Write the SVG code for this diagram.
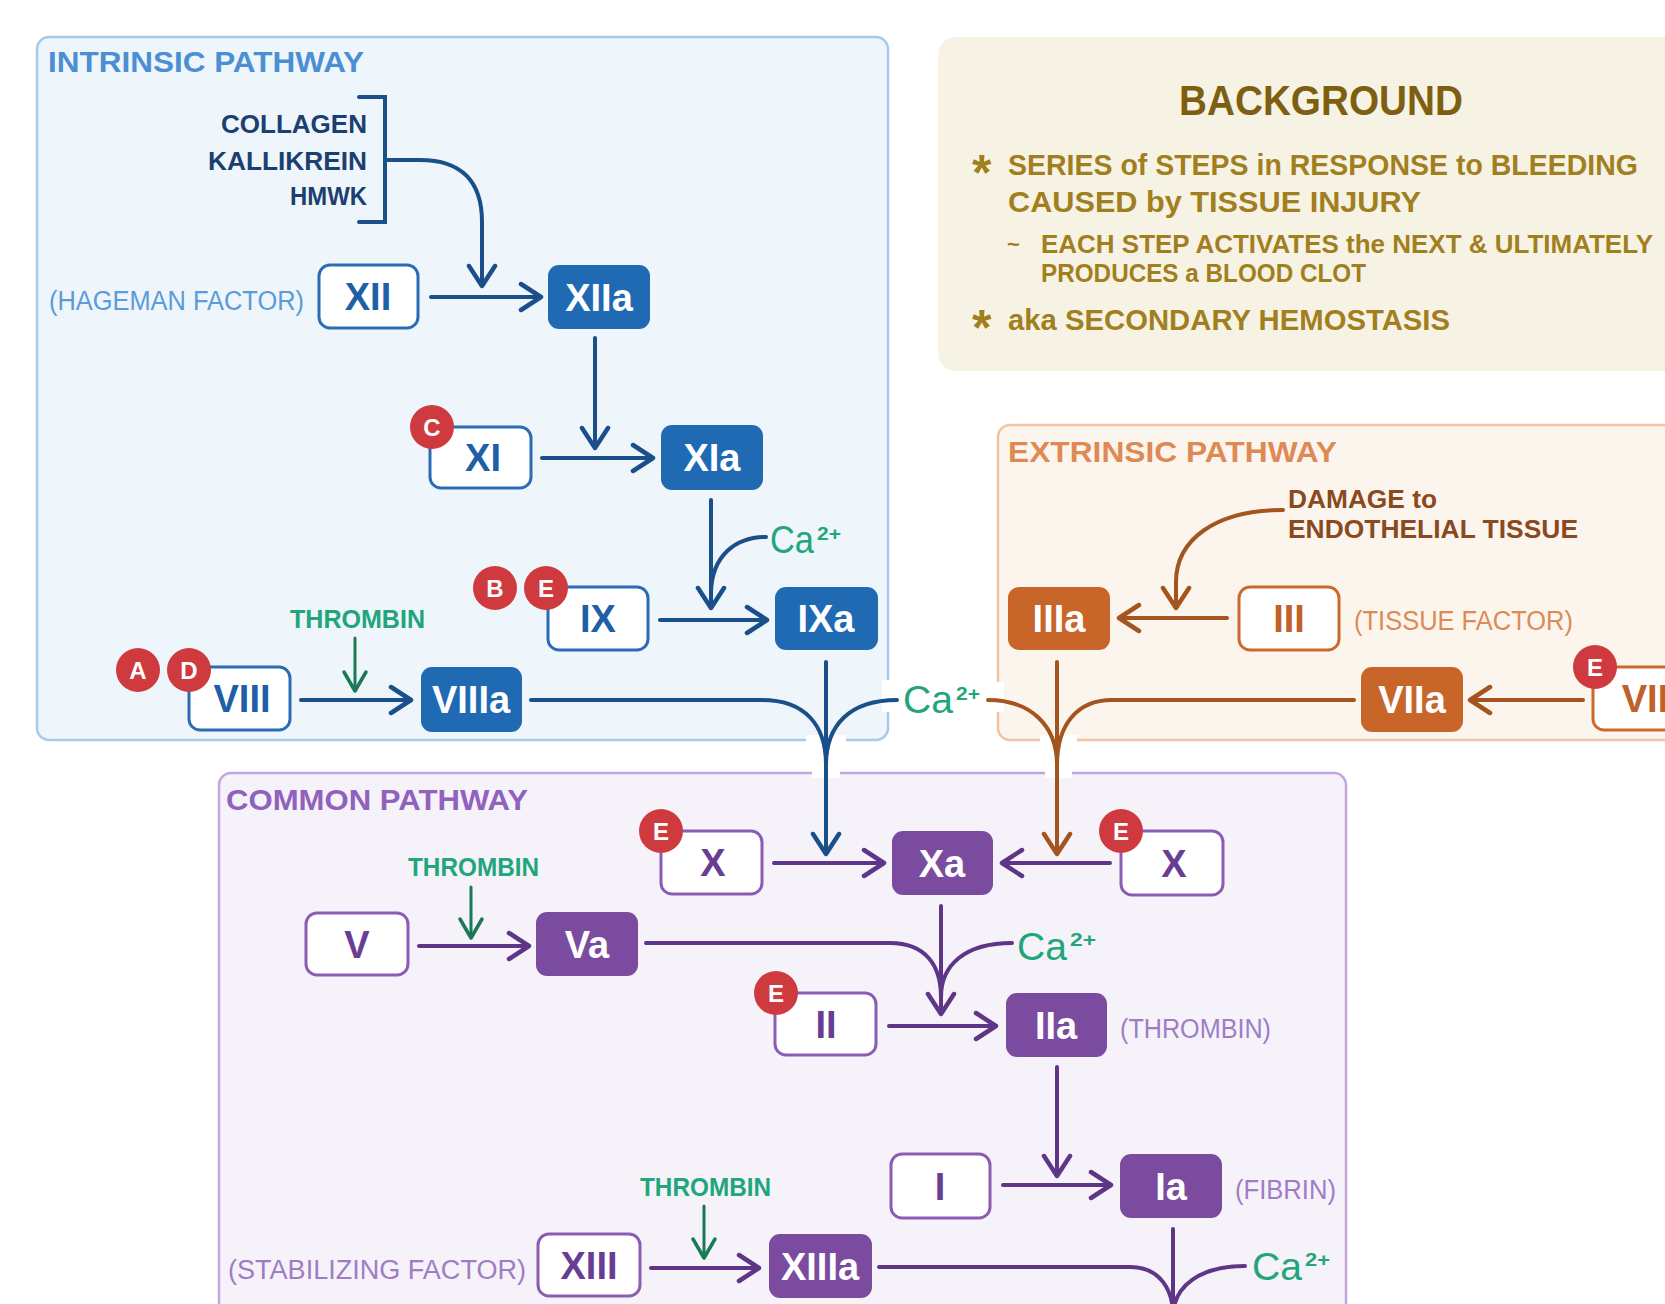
<svg xmlns="http://www.w3.org/2000/svg" width="1665" height="1304" viewBox="0 0 1665 1304">
<defs>
<marker id="aBlue" viewBox="-3 -3 28 32" markerWidth="28" markerHeight="32" refX="17" refY="13" orient="auto" markerUnits="userSpaceOnUse"><path d="M0,0 L20,13 L0,26" fill="none" stroke="#1b4f8a" stroke-width="4.5" stroke-linecap="round" stroke-linejoin="round"/></marker>
<marker id="aBrown" viewBox="-3 -3 28 32" markerWidth="28" markerHeight="32" refX="17" refY="13" orient="auto" markerUnits="userSpaceOnUse"><path d="M0,0 L20,13 L0,26" fill="none" stroke="#a3541f" stroke-width="4.5" stroke-linecap="round" stroke-linejoin="round"/></marker>
<marker id="aPurple" viewBox="-3 -3 28 32" markerWidth="28" markerHeight="32" refX="17" refY="13" orient="auto" markerUnits="userSpaceOnUse"><path d="M0,0 L20,13 L0,26" fill="none" stroke="#5f3588" stroke-width="4.5" stroke-linecap="round" stroke-linejoin="round"/></marker>
<marker id="aGreen" viewBox="-3 -3 28 32" markerWidth="28" markerHeight="32" refX="17" refY="13" orient="auto" markerUnits="userSpaceOnUse"><path d="M1,2 L20,13 L1,24" fill="none" stroke="#1b7a56" stroke-width="3.5" stroke-linecap="round" stroke-linejoin="round"/></marker>
</defs>
<style>
text{font-family:"Liberation Sans",Arial,sans-serif}
.ttl{font-size:30px;font-weight:bold}
.lbl{font-size:38px;font-weight:bold;text-anchor:middle}
.sm{font-size:26px;font-weight:bold}
.note{font-size:27px}
.wb{fill:#ffffff;stroke:#2a6db5;stroke-width:3}
.fb{fill:#1f6ab3}
.wo{fill:#ffffff;stroke:#cc6a2e;stroke-width:3}
.fo{fill:#c8662a}
.wp{fill:#ffffff;stroke:#8a5cb4;stroke-width:3}
.fp{fill:#7b4b9f}
.badge circle{fill:#cf3a3f}
.badge text{fill:#ffffff;font-size:24px;font-weight:bold;text-anchor:middle}
.cB{fill:none;stroke:#1b4f8a;stroke-width:4;stroke-linecap:round}
.cO{fill:none;stroke:#a3541f;stroke-width:4;stroke-linecap:round}
.cP{fill:none;stroke:#5f3588;stroke-width:4;stroke-linecap:round}
.cG{fill:none;stroke:#1b7a56;stroke-width:3;stroke-linecap:round}
.ca{fill:#22a57b;font-size:38px}
.ca tspan.s{font-size:19px;font-weight:bold}
.thr{fill:#22a57b;font-size:26px;font-weight:bold}
.bg{fill:#a27f1e;font-size:30px;font-weight:bold}
.bgs{fill:#a27f1e;font-size:25px;font-weight:bold}
.ast{fill:#a27f1e;font-size:50px;font-weight:bold}
</style>

<g id="panels">
<rect id="intrinsic-panel" x="37" y="37" width="851" height="703" rx="12" fill="#eef5fb" stroke="#a7c9ea" stroke-width="2.5"/>
<rect id="background-panel" x="938" y="37" width="760" height="334" rx="18" fill="#f6f3e4"/>
<rect id="extrinsic-panel" x="998" y="425" width="700" height="315" rx="12" fill="#fcf5ee" stroke="#f0c4a0" stroke-width="2.5"/>
<rect id="common-panel" x="219" y="773" width="1127" height="560" rx="12" fill="#f5f3f9" stroke="#c3a6dd" stroke-width="2.5"/>
<g id="border-gaps" fill="#ffffff">
<rect x="806" y="735" width="40" height="10"/>
<rect x="812" y="768" width="28" height="10"/>
<rect x="1040" y="735" width="37" height="10"/>
<rect x="1045" y="768" width="27" height="10"/>
<rect x="882" y="680" width="12" height="32"/>
<rect x="992" y="682" width="12" height="30"/>
</g>
</g>

<g id="panel-titles">
<text x="48" y="72" class="ttl" fill="#4b8fd3" textLength="316" lengthAdjust="spacingAndGlyphs">INTRINSIC PATHWAY</text>
<text x="1008" y="462" class="ttl" fill="#dd8a55" textLength="329" lengthAdjust="spacingAndGlyphs">EXTRINSIC PATHWAY</text>
<text x="226" y="810" class="ttl" fill="#9061bd" textLength="302" lengthAdjust="spacingAndGlyphs">COMMON PATHWAY</text>
</g>

<g id="background-text">
<text x="1179" y="115" font-size="42" font-weight="bold" fill="#7e5f12" textLength="284" lengthAdjust="spacingAndGlyphs">BACKGROUND</text>
<text x="972" y="190" class="ast">*</text>
<text x="1008" y="175" class="bg" font-size="28" textLength="630" lengthAdjust="spacingAndGlyphs">SERIES of STEPS in RESPONSE to BLEEDING</text>
<text x="1008" y="212" class="bg" textLength="413" lengthAdjust="spacingAndGlyphs">CAUSED by TISSUE INJURY</text>
<text x="1007" y="252" font-size="22" font-weight="bold" fill="#a27f1e">~</text>
<text x="1041" y="253" class="bgs" textLength="612" lengthAdjust="spacingAndGlyphs">EACH STEP ACTIVATES the NEXT &amp; ULTIMATELY</text>
<text x="1041" y="282" class="bgs" textLength="325" lengthAdjust="spacingAndGlyphs">PRODUCES a BLOOD CLOT</text>
<text x="972" y="345" class="ast">*</text>
<text x="1008" y="330" class="bg" textLength="442" lengthAdjust="spacingAndGlyphs">aka SECONDARY HEMOSTASIS</text>
</g>

<g id="connectors">
<path class="cB" d="M359,97 H385 V222 H359" stroke-width="3.5" stroke-linecap="butt"/>
<path class="cB" d="M386,160 H420 C462,160 482,182 482,222 V283" marker-end="url(#aBlue)"/>
<path class="cB" d="M431,297 H538" marker-end="url(#aBlue)"/>
<path class="cB" d="M595,338 V445" marker-end="url(#aBlue)"/>
<path class="cB" d="M542,458 H650" marker-end="url(#aBlue)"/>
<path class="cB" d="M711,500 V605" marker-end="url(#aBlue)"/>
<path class="cB" d="M766,537 C735,537 712,556 711,592"/>
<path class="cB" d="M660,620 H764" marker-end="url(#aBlue)"/>
<path class="cB" d="M301,700 H408" marker-end="url(#aBlue)"/>
<path class="cG" d="M355,638 V688" marker-end="url(#aGreen)"/>
<path class="cB" d="M531,700 H762 C805,700 826,725 826,765"/>
<path class="cB" d="M897,700 C850,700 826,725 826,765"/>
<path class="cB" d="M826,662 V851" marker-end="url(#aBlue)"/>

<path class="cO" d="M1283,510 C1215,510 1176,540 1176,582 V605" marker-end="url(#aBrown)"/>
<path class="cO" d="M1227,618 H1122" marker-end="url(#aBrown)"/>
<path class="cO" d="M1583,700 H1473" marker-end="url(#aBrown)"/>
<path class="cO" d="M1057,662 V851" marker-end="url(#aBrown)"/>
<path class="cO" d="M1354,700 H1112 C1077,700 1057,725 1057,765"/>
<path class="cO" d="M988,700 C1030,700 1057,725 1057,765"/>

<path class="cP" d="M774,863 H881" marker-end="url(#aPurple)"/>
<path class="cP" d="M1110,863 H1005" marker-end="url(#aPurple)"/>
<path class="cP" d="M419,946 H526" marker-end="url(#aPurple)"/>
<path class="cG" d="M471,887 V935" marker-end="url(#aGreen)"/>
<path class="cP" d="M941,906 V1011" marker-end="url(#aPurple)"/>
<path class="cP" d="M646,943 H890 C925,943 941,965 941,997"/>
<path class="cP" d="M1012,943 C965,943 941,965 941,997"/>
<path class="cP" d="M889,1026 H993" marker-end="url(#aPurple)"/>
<path class="cP" d="M1057,1067 V1173" marker-end="url(#aPurple)"/>
<path class="cP" d="M1003,1185 H1108" marker-end="url(#aPurple)"/>
<path class="cG" d="M704,1206 V1255" marker-end="url(#aGreen)"/>
<path class="cP" d="M651,1268 H756" marker-end="url(#aPurple)"/>
<path class="cP" d="M1173,1229 V1320"/>
<path class="cP" d="M879,1267 H1130 C1160,1267 1173,1290 1173,1315"/>
<path class="cP" d="M1245,1266 C1200,1266 1174,1286 1173,1315"/>
</g>

<g id="side-labels">
<text x="367" y="133" class="sm" fill="#1b3f70" text-anchor="end" textLength="146" lengthAdjust="spacingAndGlyphs">COLLAGEN</text>
<text x="367" y="170" class="sm" fill="#1b3f70" text-anchor="end" textLength="159" lengthAdjust="spacingAndGlyphs">KALLIKREIN</text>
<text x="367" y="205" class="sm" fill="#1b3f70" text-anchor="end" textLength="77" lengthAdjust="spacingAndGlyphs">HMWK</text>
<text x="49" y="310" class="note" fill="#5b9bd9" textLength="255" lengthAdjust="spacingAndGlyphs">(HAGEMAN FACTOR)</text>
<text x="290" y="628" class="thr" textLength="135" lengthAdjust="spacingAndGlyphs">THROMBIN</text>
<text x="1288" y="508" class="sm" fill="#8a4a1e" textLength="149" lengthAdjust="spacingAndGlyphs">DAMAGE to</text>
<text x="1288" y="538" class="sm" fill="#8a4a1e" textLength="290" lengthAdjust="spacingAndGlyphs">ENDOTHELIAL TISSUE</text>
<text x="1354" y="630" class="note" fill="#dd8a55" textLength="219" lengthAdjust="spacingAndGlyphs">(TISSUE FACTOR)</text>
<text x="408" y="876" class="thr" textLength="131" lengthAdjust="spacingAndGlyphs">THROMBIN</text>
<text x="640" y="1196" class="thr" textLength="131" lengthAdjust="spacingAndGlyphs">THROMBIN</text>
<text x="1120" y="1038" class="note" fill="#a07cc6" textLength="151" lengthAdjust="spacingAndGlyphs">(THROMBIN)</text>
<text x="1235" y="1199" class="note" fill="#a07cc6" textLength="101" lengthAdjust="spacingAndGlyphs">(FIBRIN)</text>
<text x="228" y="1279" class="note" fill="#a07cc6" textLength="298" lengthAdjust="spacingAndGlyphs">(STABILIZING FACTOR)</text>
<text class="ca" y="553"><tspan x="770" textLength="44" lengthAdjust="spacingAndGlyphs">Ca</tspan><tspan class="s" x="817" y="540" textLength="24" lengthAdjust="spacingAndGlyphs">2+</tspan></text>
<text class="ca" y="713"><tspan x="903" textLength="50" lengthAdjust="spacingAndGlyphs">Ca</tspan><tspan class="s" x="956" y="700" textLength="24" lengthAdjust="spacingAndGlyphs">2+</tspan></text>
<text class="ca" y="960"><tspan x="1017" textLength="50" lengthAdjust="spacingAndGlyphs">Ca</tspan><tspan class="s" x="1070" y="946" textLength="26" lengthAdjust="spacingAndGlyphs">2+</tspan></text>
<text class="ca" y="1280"><tspan x="1252" textLength="50" lengthAdjust="spacingAndGlyphs">Ca</tspan><tspan class="s" x="1305" y="1266" textLength="25" lengthAdjust="spacingAndGlyphs">2+</tspan></text>
</g>

<g id="node-XII"><rect class="wb" x="319" y="265" width="99" height="63" rx="11"/><text class="lbl" x="368" y="310" fill="#1f5fa8">XII</text></g>
<g id="node-XIIa"><rect class="fb" x="548" y="265" width="102" height="64" rx="11"/><text class="lbl" x="599" y="311" fill="#ffffff">XIIa</text></g>
<g id="node-XI"><rect class="wb" x="430" y="427" width="101" height="61" rx="11"/><text class="lbl" x="483" y="471" fill="#1f5fa8">XI</text></g>
<g id="node-XIa"><rect class="fb" x="661" y="425" width="102" height="65" rx="11"/><text class="lbl" x="712" y="471" fill="#ffffff">XIa</text></g>
<g id="node-IX"><rect class="wb" x="548" y="587" width="100" height="63" rx="11"/><text class="lbl" x="598" y="632" fill="#1f5fa8">IX</text></g>
<g id="node-IXa"><rect class="fb" x="775" y="587" width="103" height="63" rx="11"/><text class="lbl" x="826" y="632" fill="#ffffff">IXa</text></g>
<g id="node-VIII"><rect class="wb" x="189" y="667" width="101" height="63" rx="11"/><text class="lbl" x="242" y="712" fill="#1f5fa8">VIII</text></g>
<g id="node-VIIIa"><rect class="fb" x="421" y="667" width="101" height="65" rx="11"/><text class="lbl" x="471" y="713" fill="#ffffff">VIIIa</text></g>

<g id="node-IIIa"><rect class="fo" x="1008" y="587" width="102" height="63" rx="11"/><text class="lbl" x="1059" y="632" fill="#ffffff">IIIa</text></g>
<g id="node-III"><rect class="wo" x="1239" y="587" width="100" height="63" rx="11"/><text class="lbl" x="1289" y="632" fill="#c0602a">III</text></g>
<g id="node-VIIa"><rect class="fo" x="1361" y="667" width="102" height="65" rx="11"/><text class="lbl" x="1412" y="713" fill="#ffffff">VIIa</text></g>
<g id="node-VII"><rect class="wo" x="1593" y="667" width="102" height="63" rx="11"/><text class="lbl" x="1645" y="712" fill="#c0602a">VII</text></g>

<g id="node-X-left"><rect class="wp" x="661" y="831" width="101" height="63" rx="11"/><text class="lbl" x="713" y="876" fill="#6a3d94">X</text></g>
<g id="node-Xa"><rect class="fp" x="892" y="831" width="101" height="64" rx="11"/><text class="lbl" x="942" y="877" fill="#ffffff">Xa</text></g>
<g id="node-X-right"><rect class="wp" x="1121" y="831" width="102" height="64" rx="11"/><text class="lbl" x="1174" y="877" fill="#6a3d94">X</text></g>
<g id="node-V"><rect class="wp" x="306" y="913" width="102" height="62" rx="11"/><text class="lbl" x="357" y="958" fill="#6a3d94">V</text></g>
<g id="node-Va"><rect class="fp" x="536" y="912" width="102" height="64" rx="11"/><text class="lbl" x="587" y="958" fill="#ffffff">Va</text></g>
<g id="node-II"><rect class="wp" x="775" y="993" width="101" height="62" rx="11"/><text class="lbl" x="826" y="1038" fill="#6a3d94">II</text></g>
<g id="node-IIa"><rect class="fp" x="1006" y="993" width="101" height="64" rx="11"/><text class="lbl" x="1056" y="1039" fill="#ffffff">IIa</text></g>
<g id="node-I"><rect class="wp" x="891" y="1154" width="99" height="64" rx="11"/><text class="lbl" x="940" y="1200" fill="#6a3d94">I</text></g>
<g id="node-Ia"><rect class="fp" x="1120" y="1154" width="102" height="64" rx="11"/><text class="lbl" x="1171" y="1200" fill="#ffffff">Ia</text></g>
<g id="node-XIII"><rect class="wp" x="538" y="1234" width="102" height="62" rx="11"/><text class="lbl" x="589" y="1279" fill="#6a3d94">XIII</text></g>
<g id="node-XIIIa"><rect class="fp" x="769" y="1234" width="103" height="64" rx="11"/><text class="lbl" x="820" y="1280" fill="#ffffff">XIIIa</text></g>

<g id="badges">
<g class="badge"><circle cx="432" cy="427" r="22"/><text x="432" y="436">C</text></g>
<g class="badge"><circle cx="495" cy="588" r="22"/><text x="495" y="597">B</text></g>
<g class="badge"><circle cx="546" cy="588" r="22"/><text x="546" y="597">E</text></g>
<g class="badge"><circle cx="138" cy="670" r="22"/><text x="138" y="679">A</text></g>
<g class="badge"><circle cx="189" cy="670" r="22"/><text x="189" y="679">D</text></g>
<g class="badge"><circle cx="1595" cy="667" r="22"/><text x="1595" y="676">E</text></g>
<g class="badge"><circle cx="661" cy="831" r="22"/><text x="661" y="840">E</text></g>
<g class="badge"><circle cx="1121" cy="831" r="22"/><text x="1121" y="840">E</text></g>
<g class="badge"><circle cx="776" cy="993" r="22"/><text x="776" y="1002">E</text></g>
</g>
</svg>
